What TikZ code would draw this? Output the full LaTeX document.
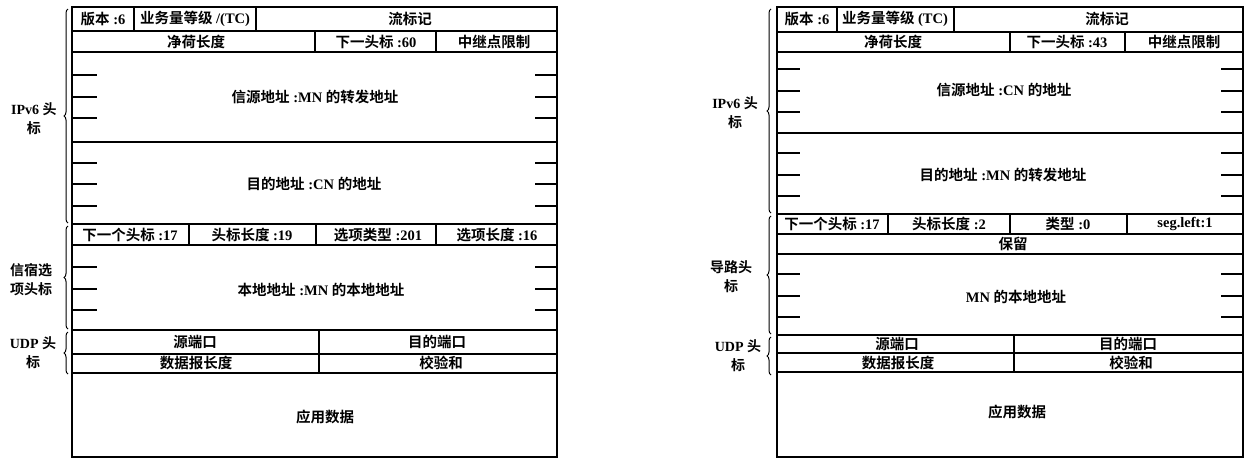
\documentclass[tikz,border=0pt]{standalone}
\usepackage{fontspec}
\setmainfont{Liberation Serif}
\newfontfamily\cjk{Noto Sans CJK SC}[BoldFont={* Bold}]
\usetikzlibrary{decorations.pathreplacing}
\newcommand\zh[1]{{\cjk #1}}
\begin{document}
\begin{tikzpicture}[x=1pt,y=-1pt, line width=1.3pt,
  txt/.style={font=\fontsize{14.5}{16}\selectfont\bfseries, inner sep=0pt},
  lab/.style={txt, align=center, font=\fontsize{14}{19}\selectfont\bfseries},
  brc/.style={decorate, decoration={brace, amplitude=4pt}, line width=1pt},
  tick/.style={line width=1.3pt}]
\useasboundingbox (0,0) rectangle (1251,461);

% ================= LEFT =================
\draw (72,7) rectangle (557,457);
\foreach \y in {31,52,142,224,245,330,354,373} \draw (72,\y) -- (557,\y);
\draw (134,7) -- (134,31) (256,7) -- (256,31);
\draw (315,31) -- (315,52) (436,31) -- (436,52);
\draw (189,224) -- (189,245) (316,224) -- (316,245) (436,224) -- (436,245);
\draw (319,330) -- (319,373);
\foreach \y in {75,97,118,163,184,206,267,289,310}
  \draw[tick] (72,\y) -- (97,\y) (535,\y) -- (557,\y);

\node[txt] (l1) at (103,19) {\zh{版本} :6};
\node[txt] (l2) at (195,19) {\zh{业务量等级} /(TC)};
\node[txt] (l3) at (410,19) {\zh{流标记}};
\node[txt] (l4) at (196,42) {\zh{净荷长度}};
\node[txt] (l5) at (376,42) {\zh{下一头标} :60};
\node[txt] (l6) at (494,42) {\zh{中继点限制}};
\node[txt] (l7) at (315,97) {\zh{信源地址} :MN \zh{的转发地址}};
\node[txt] (l8) at (314,184) {\zh{目的地址} :CN \zh{的地址}};
\node[txt] (l9) at (130,235) {\zh{下一个头标} :17};
\node[txt] (l10) at (252,235) {\zh{头标长度} :19};
\node[txt] (l11) at (378,235) {\zh{选项类型} :201};
\node[txt] (l12) at (497,235) {\zh{选项长度} :16};
\node[txt] (l13) at (321,290) {\zh{本地地址} :MN \zh{的本地地址}};
\node[txt] (l14) at (195,342) {\zh{源端口}};
\node[txt] (l15) at (437,342) {\zh{目的端口}};
\node[txt] (l16) at (196,363) {\zh{数据报长度}};
\node[txt] (l17) at (441,363) {\zh{校验和}};
\node[txt] (l18) at (325,417) {\zh{应用数据}};

\coordinate (lb1a) at (68,223); \coordinate (lb1b) at (68,9);
\coordinate (lb2a) at (68,329); \coordinate (lb2b) at (68,226);
\coordinate (lb3a) at (68,374); \coordinate (lb3b) at (68,332);
\draw[brc] (lb1a) -- (lb1b);
\draw[brc] (lb2a) -- (lb2b);
\draw[brc] (lb3a) -- (lb3b);
\node[lab] (lL1) at (34,119) {IPv6 \zh{头}\\\zh{标}};
\node[lab] (lL2) at (31,280) {\zh{信宿选}\\\zh{项头标}};
\node[lab] (lL3) at (33,353) {UDP \zh{头}\\\zh{标}};

% ================= RIGHT =================
\draw (777,7) rectangle (1243,457);
\foreach \y in {32,52,133,214,234,254,335,353,372} \draw (777,\y) -- (1243,\y);
\draw (837,7) -- (837,32) (954,7) -- (954,32);
\draw (1010,32) -- (1010,52) (1125,32) -- (1125,52);
\draw (888,214) -- (888,234) (1010,214) -- (1010,234) (1127,214) -- (1127,234);
\draw (1014,335) -- (1014,372);
\foreach \y in {69,91,112,153,175,196,274,296,317}
  \draw[tick] (777,\y) -- (800,\y) (1221,\y) -- (1243,\y);

\node[txt] (r1) at (807,19) {\zh{版本} :6};
\node[txt] (r2) at (895,19) {\zh{业务量等级} (TC)};
\node[txt] (r3) at (1107,19) {\zh{流标记}};
\node[txt] (r4) at (893,42) {\zh{净荷长度}};
\node[txt] (r5) at (1067,42) {\zh{下一头标} :43};
\node[txt] (r6) at (1184,42) {\zh{中继点限制}};
\node[txt] (r7) at (1004,90) {\zh{信源地址} :CN \zh{的地址}};
\node[txt] (r8) at (1003,175) {\zh{目的地址} :MN \zh{的转发地址}};
\node[txt] (r9) at (832,224) {\zh{下一个头标} :17};
\node[txt] (r10) at (949,224) {\zh{头标长度} :2};
\node[txt] (r11) at (1068,224) {\zh{类型} :0};
\node[txt] (r12) at (1185,224) {seg.left:1};
\node[txt] (r13) at (1013,244) {\zh{保留}};
\node[txt] (r14) at (1016,297) {MN \zh{的本地地址}};
\node[txt] (r15) at (897,344) {\zh{源端口}};
\node[txt] (r16) at (1128,344) {\zh{目的端口}};
\node[txt] (r17) at (898,363) {\zh{数据报长度}};
\node[txt] (r18) at (1131,363) {\zh{校验和}};
\node[txt] (r19) at (1017,412) {\zh{应用数据}};

\coordinate (rb1a) at (771,213); \coordinate (rb1b) at (771,9);
\coordinate (rb2a) at (771,334); \coordinate (rb2b) at (771,216);
\coordinate (rb3a) at (771,375); \coordinate (rb3b) at (771,337);
\draw[brc] (rb1a) -- (rb1b);
\draw[brc] (rb2a) -- (rb2b);
\draw[brc] (rb3a) -- (rb3b);
\node[lab] (rL1) at (735,113) {IPv6 \zh{头}\\\zh{标}};
\node[lab] (rL2) at (731,277) {\zh{导路头}\\\zh{标}};
\node[lab] (rL3) at (738,356) {UDP \zh{头}\\\zh{标}};
\end{tikzpicture}
\end{document}
